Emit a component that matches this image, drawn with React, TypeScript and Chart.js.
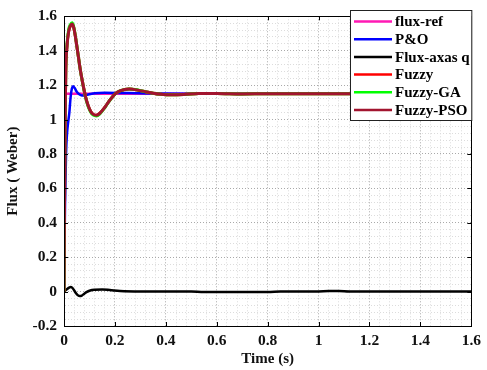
import React, { useEffect, useRef } from "react";
import { Chart, registerables } from "chart.js";

Chart.register(...registerables);

const xTickValues = [0, 0.2, 0.4, 0.6, 0.8, 1.0, 1.2, 1.4, 1.6];
const xTickLabels = ["0", "0.2", "0.4", "0.6", "0.8", "1", "1.2", "1.4", "1.6"];
const yTickValues = [-0.2, 0, 0.2, 0.4, 0.6, 0.8, 1.0, 1.2, 1.4, 1.6];
const yTickLabels = ["-0.2", "0", "0.2", "0.4", "0.6", "0.8", "1", "1.2", "1.4", "1.6"];

const refT = [0, 1.6];
const refV = [1.15, 1.15];

const poT = [0, 0.004, 0.008, 0.012, 0.016, 0.021, 0.026, 0.031, 0.036, 0.042, 0.05, 0.06, 0.07, 0.08, 0.095, 0.12, 0.16, 0.25, 0.35, 0.5, 1.6];
const poV = [0, 0.5, 0.8, 0.92, 0.98, 1.04, 1.13, 1.18, 1.193, 1.183, 1.162, 1.147, 1.14, 1.14, 1.146, 1.153, 1.156, 1.154, 1.151, 1.15, 1.15];

const qT = [0, 0.01, 0.02, 0.027, 0.035, 0.045, 0.055, 0.062, 0.07, 0.08, 0.09, 0.1, 0.12, 0.15, 0.18, 0.22, 0.3, 0.5, 0.55, 0.8, 0.85, 1.0, 1.04, 1.08, 1.12, 1.6];
const qV = [0, 0.012, 0.023, 0.026, 0.018, -0.005, -0.022, -0.026, -0.023, -0.012, -0.002, 0.005, 0.011, 0.012, 0.009, 0.004, 0.001, 0.0, -0.002, -0.002, 0, 0.001, 0.003, 0.003, 0.001, 0];

const fuzzyT = [0, 0.002, 0.004, 0.007, 0.012, 0.018, 0.025, 0.032, 0.038, 0.045, 0.055, 0.065, 0.075, 0.085, 0.095, 0.105, 0.115, 0.127, 0.14, 0.16, 0.18, 0.2, 0.22, 0.256, 0.29, 0.32, 0.35, 0.38, 0.42, 0.47, 0.53, 0.6, 0.7, 0.8, 1.0, 1.2, 1.4, 1.6];
const fuzzyV = [0, 0.5, 0.95, 1.28, 1.43, 1.51, 1.545, 1.555, 1.535, 1.48, 1.38, 1.28, 1.2, 1.13, 1.08, 1.047, 1.03, 1.025, 1.035, 1.07, 1.113, 1.148, 1.166, 1.177, 1.171, 1.162, 1.153, 1.147, 1.144, 1.146, 1.152, 1.152, 1.149, 1.15, 1.15, 1.15, 1.15, 1.15];
const gaV = [0, 0.5, 0.96, 1.29, 1.44, 1.52, 1.552, 1.562, 1.54, 1.483, 1.381, 1.279, 1.198, 1.127, 1.076, 1.043, 1.026, 1.021, 1.032, 1.068, 1.112, 1.148, 1.167, 1.178, 1.172, 1.162, 1.153, 1.147, 1.144, 1.146, 1.152, 1.152, 1.149, 1.15, 1.15, 1.15, 1.15, 1.15];
const psoV = [0, 0.5, 0.95, 1.28, 1.43, 1.51, 1.545, 1.555, 1.535, 1.48, 1.38, 1.28, 1.2, 1.13, 1.08, 1.047, 1.03, 1.025, 1.035, 1.07, 1.113, 1.148, 1.166, 1.177, 1.171, 1.162, 1.153, 1.147, 1.144, 1.146, 1.152, 1.152, 1.149, 1.15, 1.15, 1.15, 1.15, 1.15];

const FONT = "'Liberation Serif', 'Times New Roman', serif";

const pts = (t: number[], v: number[]) => t.map((x, i) => ({ x, y: v[i] }));

const minorList = (major: number[], sub: number) => {
  const out: number[] = [];
  for (let i = 0; i < major.length - 1; i++) {
    const a = major[i];
    const b = major[i + 1];
    for (let k = 0; k < sub; k++) out.push(a + ((b - a) * k) / sub);
  }
  out.push(major[major.length - 1]);
  return out;
};

const findMajor = (vals: number[], v: number) => {
  for (let i = 0; i < vals.length; i++) if (Math.abs(vals[i] - v) < 1e-6) return i;
  return -1;
};

export default function App() {
  const ref = useRef<HTMLCanvasElement | null>(null);
  useEffect(() => {
    document.body.style.margin = "0";
    const canvas = ref.current;
    if (!canvas) return;

    const framePlugin = {
      id: "frame",
      afterDraw(chart: any) {
        const { ctx, chartArea } = chart;
        const { left, right, top, bottom } = chartArea;
        const xs = chart.scales.x;
        const ys = chart.scales.y;
        ctx.save();
        ctx.strokeStyle = "#000";
        ctx.lineWidth = 1;
        ctx.setLineDash([]);
        ctx.strokeRect(Math.round(left) + 0.5, Math.round(top) + 0.5, Math.round(right - left), Math.round(bottom - top));
        ctx.beginPath();
        xTickValues.forEach((v) => {
          const px = Math.round(xs.getPixelForValue(v)) + 0.5;
          ctx.moveTo(px, bottom);
          ctx.lineTo(px, bottom - 4);
          ctx.moveTo(px, top);
          ctx.lineTo(px, top + 4);
        });
        yTickValues.forEach((v) => {
          const py = Math.round(ys.getPixelForValue(v)) + 0.5;
          ctx.moveTo(left, py);
          ctx.lineTo(left + 4, py);
          ctx.moveTo(right, py);
          ctx.lineTo(right - 4, py);
        });
        ctx.stroke();

        // legend
        const bx = 350.5;
        const by = 10.5;
        const bw = right - 350;
        const bh = 110;
        ctx.fillStyle = "#fff";
        ctx.fillRect(bx, by, bw, bh);
        ctx.strokeStyle = "#222";
        ctx.lineWidth = 1;
        ctx.strokeRect(bx, by, bw, bh);
        const ds = chart.data.datasets;
        ctx.font = "bold 15px " + FONT;
        ctx.textBaseline = "middle";
        ctx.textAlign = "left";
        ds.forEach((d: any, i: number) => {
          const y = 21.5 + i * 17.7;
          ctx.beginPath();
          ctx.strokeStyle = d.borderColor;
          ctx.lineWidth = 2.5;
          ctx.moveTo(354, y);
          ctx.lineTo(392, y);
          ctx.stroke();
          ctx.fillStyle = "#000";
          ctx.fillText(d.label, 395, y + 1);
        });
        ctx.restore();
      },
    };

    const common = {
      pointRadius: 0,
      fill: false,
      cubicInterpolationMode: "monotone" as const,
    };

    const chart = new Chart(canvas, {
      type: "line",
      data: {
        datasets: [
          { ...common, label: "flux-ref", data: pts(refT, refV), borderColor: "#ff19b4", borderWidth: 2.5, order: 5 },
          { ...common, label: "P&O", data: pts(poT, poV), borderColor: "#0000ff", borderWidth: 2.5, order: 4 },
          { ...common, label: "Flux-axas q", data: pts(qT, qV), borderColor: "#000000", borderWidth: 2.5, order: 3 },
          { ...common, label: "Fuzzy", data: pts(fuzzyT, fuzzyV), borderColor: "#ff0000", borderWidth: 3, order: 2 },
          { ...common, label: "Fuzzy-GA", data: pts(fuzzyT, gaV), borderColor: "#00ff00", borderWidth: 3, order: 1 },
          { ...common, label: "Fuzzy-PSO", data: pts(fuzzyT, psoV), borderColor: "#a2142f", borderWidth: 3, order: 0 },
        ] as any,
      },
      options: {
        animation: false,
        responsive: false,
        maintainAspectRatio: false,
        events: [],
        layout: { padding: { top: 10, right: 11, left: 0, bottom: 0 } },
        plugins: { legend: { display: false }, tooltip: { enabled: false } },
        scales: {
          x: {
            type: "linear",
            min: 0,
            max: 1.6,
            afterFit: (s: any) => {
              s.height = 44;
            },
            afterBuildTicks: (s: any) => {
              s.ticks = minorList(xTickValues, 5).map((v) => ({ value: v }));
            },
            ticks: {
              autoSkip: false,
              maxRotation: 0,
              padding: 6,
              color: "#111",
              font: { family: FONT, size: 15.5, weight: "bold" },
              callback: (v: any) => {
                const i = findMajor(xTickValues, Number(v));
                return i >= 0 ? xTickLabels[i] : "";
              },
            },
            grid: {
              drawTicks: false,
              lineWidth: 1,
              color: (c: any) => (c.tick && findMajor(xTickValues, c.tick.value) >= 0 ? "#a9a9a9" : "#dcdcdc"),
            },
            border: { display: true, color: "#000", width: 1, dash: [1, 2] },
            title: {
              display: true,
              text: "Time (s)",
              color: "#111",
              font: { family: FONT, size: 15, weight: "bold" },
              padding: { top: 0, bottom: 2 },
            },
          },
          y: {
            type: "linear",
            min: -0.2,
            max: 1.6,
            afterFit: (s: any) => {
              s.width = 64;
            },
            afterBuildTicks: (s: any) => {
              s.ticks = minorList(yTickValues, 5).map((v) => ({ value: v }));
            },
            ticks: {
              autoSkip: false,
              padding: 7,
              color: "#111",
              font: { family: FONT, size: 15.5, weight: "bold" },
              callback: (v: any) => {
                const i = findMajor(yTickValues, Number(v));
                return i >= 0 ? yTickLabels[i] : "";
              },
            },
            grid: {
              drawTicks: false,
              lineWidth: 1,
              color: (c: any) => (c.tick && findMajor(yTickValues, c.tick.value) >= 0 ? "#a9a9a9" : "#dcdcdc"),
            },
            border: { display: true, color: "#000", width: 1, dash: [1, 2] },
            title: {
              display: true,
              text: "Flux ( Weber)",
              color: "#111",
              font: { family: FONT, size: 15, weight: "bold" },
              padding: { top: 4, bottom: 0 },
            },
          },
        },
      } as any,
      plugins: [framePlugin],
    });
    return () => chart.destroy();
  }, []);

  return (
    <div style={{ width: 487, height: 370 }}>
      <canvas ref={ref} width={487} height={370} style={{ display: "block" }} />
    </div>
  );
}
